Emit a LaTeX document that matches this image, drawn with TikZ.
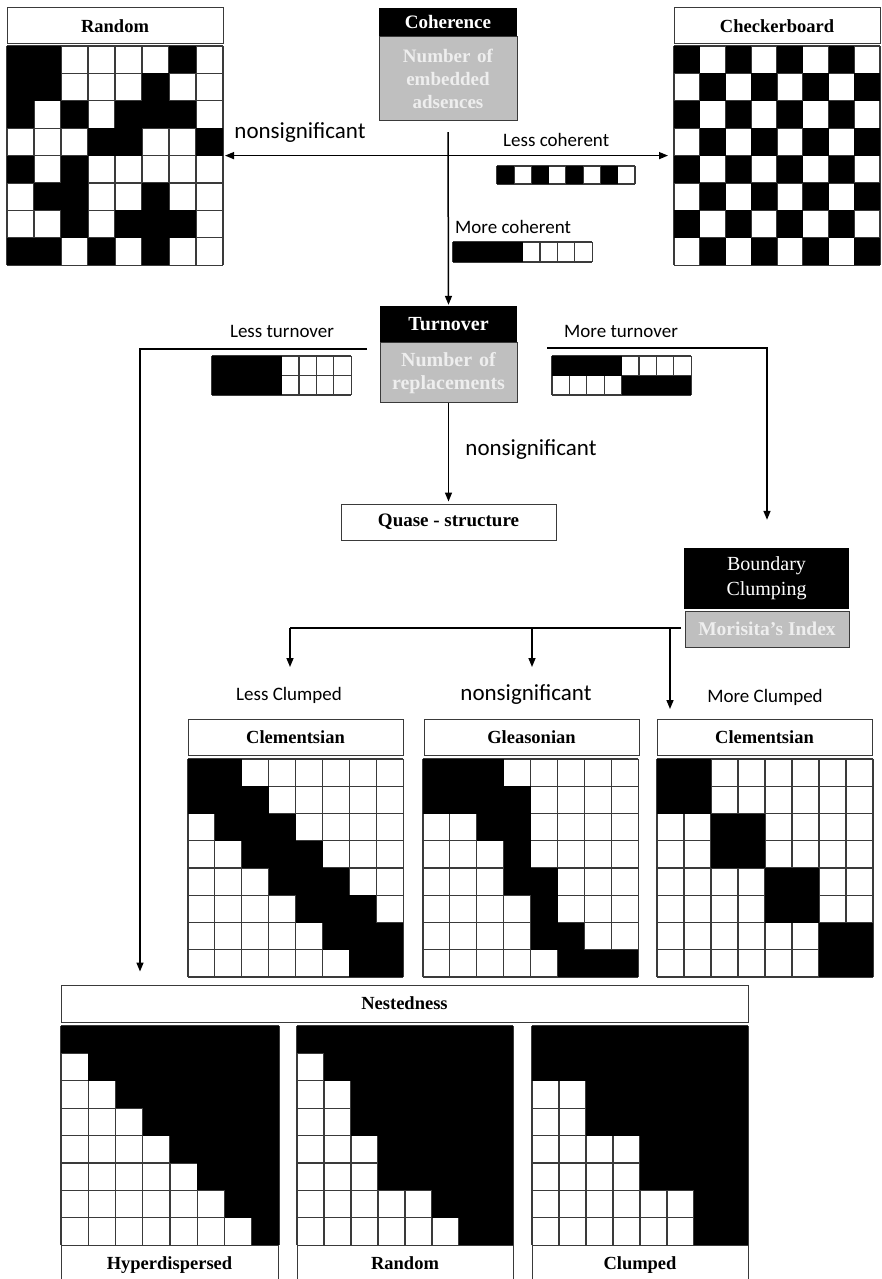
\documentclass[tikz,border=0pt]{standalone}
\usepackage{fontspec}
\setmainfont{Liberation Serif}
\newfontfamily\labfont{Carlito}
\usetikzlibrary{arrows.meta}

\definecolor{boxgray}{HTML}{BFBFBF}
\definecolor{paletext}{HTML}{EEEEEE}
\definecolor{edge}{HTML}{3A3A3A}

\tikzset{
  titlebox/.style={draw=edge, line width=1pt, fill=white, minimum height=36pt, inner sep=0pt,
    font=\bfseries\fontsize{18.5}{20}\selectfont},
  footbox/.style={titlebox, text height=13pt, text depth=4pt},
  headbox/.style={fill=black, text=white, inner sep=0pt, align=center},
  graybox/.style={fill=boxgray, draw=edge, line width=1pt, text=paletext, inner sep=0pt, align=center,
    font=\bfseries\fontsize{19}{23}\selectfont},
  lab/.style={font=\labfont\fontsize{19}{21}\selectfont, inner sep=0pt},
  biglab/.style={font=\labfont\fontsize{23}{25}\selectfont, inner sep=0pt},
  conn/.style={line width=1.5pt, -{Triangle[length=9pt,width=7pt]}},
  wire/.style={line width=1.5pt},
  gridln/.style={draw=edge, line width=1.1pt},
  matframe/.style={draw=none, inner sep=0pt, outer sep=0pt},
}

% #1 name, #2 x0, #3 y0, #4 cell width, #5 cell height, #6 columns, #7 rows, #8 pattern (1 = black)
\newcommand\cellmatrix[8]{%
  \fill[white] (#2,#3) rectangle ++({#6*#4},{#7*#5});
  \foreach \ii in {0,...,#6} \draw[gridln] ({#2+\ii*#4},#3) -- ++(0,{#7*#5});
  \foreach \jj in {0,...,#7} \draw[gridln] (#2,{#3+\jj*#5}) -- ++({#6*#4},0);
  \foreach [count=\ri] \row in {#8} {
    \foreach [count=\ci] \bit in \row {
      \ifnum\bit=1
        \fill[black] ({#2+(\ci-1)*#4},{#3+(\ri-1)*#5}) rectangle ++(#4,#5);
      \fi
    }
  }
  \node[matframe, minimum width={#6*#4}, minimum height={#7*#5}] (#1) at ({#2+#6*#4/2},{#3+#7*#5/2}) {};
}

\begin{document}
\begin{tikzpicture}[x=1pt, y=-1pt]
\useasboundingbox (0,0) rectangle (882,1279);
\fill[white] (0,0) rectangle (882,1279);

% ---------- top row: random and checkerboard ----------
\node[titlebox, minimum width=216pt] (tRand) at (115,26) {Random};
\cellmatrix{mRand}{7}{46}{27}{27.4}{8}{8}{{1,1,0,0,0,0,1,0},{1,1,0,0,0,1,0,0},{1,0,1,0,1,1,1,0},{0,0,0,1,1,0,0,1},{1,0,1,0,0,0,0,0},{0,1,1,0,0,1,0,0},{0,0,1,0,1,1,1,0},{1,1,0,1,0,1,0,0}}

\node[titlebox, minimum width=206pt] (tChk) at (777,26) {Checkerboard};
\cellmatrix{mChk}{674}{46}{25.75}{27.4}{8}{8}{{1,0,1,0,1,0,1,0},{0,1,0,1,0,1,0,1},{1,0,1,0,1,0,1,0},{0,1,0,1,0,1,0,1},{1,0,1,0,1,0,1,0},{0,1,0,1,0,1,0,1},{1,0,1,0,1,0,1,0},{0,1,0,1,0,1,0,1}}

% ---------- coherence ----------
\node[headbox, minimum width=138pt, minimum height=28pt, font=\bfseries\fontsize{19}{21}\selectfont] (cohH) at (448,22) {Coherence};
\node[graybox, minimum width=138pt, minimum height=84pt, anchor=north] (cohB) at (cohH.south) {Number\hspace{0.35em}of\\embedded\\adsences};

\coordinate (cj) at (cohB.south |- mRand.east);
\draw[conn, shorten >=2pt] (cj) -- (mRand.east);
\draw[conn, shorten >=6pt] (cj) -- (mChk.west);
\node[biglab] (lNs1) at (300,133) {nonsignificant};
\node[lab, anchor=west] (lLc) at (503,140) {Less coherent};
\cellmatrix{sLc}{497}{166}{17.25}{18}{8}{1}{{1,0,1,0,1,0,1,0}}
\node[lab, anchor=west] (lMc) at (455,227) {More coherent};
\cellmatrix{sMc}{453}{242}{17.4}{20}{8}{1}{{1,1,1,1,0,0,0,0}}

% ---------- turnover ----------
\node[headbox, minimum width=137pt, minimum height=36pt, font=\bfseries\fontsize{20}{22}\selectfont] (turnH) at (448.5,324) {Turnover};
\node[graybox, minimum width=137pt, minimum height=60pt, anchor=north, font=\bfseries\fontsize{20}{23}\selectfont] (turnB) at (turnH.south) {Number\hspace{0.35em}of\\replacements};

\draw[conn, shorten >=1pt] ([yshift=-11pt]cohB.south) -- (turnH.north);

\node[lab] (lLt) at (282,331) {Less turnover};
\cellmatrix{sLt}{212}{356}{17.4}{19.5}{8}{2}{{1,1,1,1,0,0,0,0},{1,1,1,1,0,0,0,0}}
\node[lab] (lMt) at (621,331) {More turnover};
\cellmatrix{sMt}{552}{356}{17.4}{19.5}{8}{2}{{1,1,1,1,0,0,0,0},{0,0,0,0,1,1,1,1}}

\node[titlebox, minimum width=215pt, font=\bfseries\fontsize{19}{21}\selectfont] (quase) at (448.5,522) {Quase - structure};
\draw[conn, shorten >=2pt] (turnB.south) -- (quase.north);
\node[biglab] (lNs2) at (531,450) {nonsignificant};

% ---------- boundary clumping ----------
\node[headbox, minimum width=165pt, minimum height=61pt, font=\fontsize{20}{25}\selectfont] (bndH) at (766.5,578.5) {Boundary\\Clumping};
\node[graybox, minimum width=164pt, minimum height=36pt, font=\bfseries\fontsize{19.5}{21}\selectfont] (bndB) at (767,629) {Morisita’s Index};

\coordinate (tL) at (367,349);
\coordinate (tLc) at (140,349);
\coordinate (tR) at (547,348);
\coordinate (tRc) at (767,348);

% ---------- middle row: clementsian / gleasonian ----------
\node[lab] (lLcl) at (289,695) {Less Clumped};
\node[biglab] (lNs3) at (526,695) {nonsignificant};
\node[lab] (lMcl) at (765,697) {More Clumped};

\node[titlebox, minimum width=215pt] (tCl1) at (295.5,737) {Clementsian};
\cellmatrix{mCl1}{188}{759}{26.9}{27.25}{8}{8}{{1,1,0,0,0,0,0,0},{1,1,1,0,0,0,0,0},{0,1,1,1,0,0,0,0},{0,0,1,1,1,0,0,0},{0,0,0,1,1,1,0,0},{0,0,0,0,1,1,1,0},{0,0,0,0,0,1,1,1},{0,0,0,0,0,0,1,1}}

\node[titlebox, minimum width=215pt] (tGl) at (531.5,737) {Gleasonian};
\cellmatrix{mGl}{423}{759}{26.9}{27.25}{8}{8}{{1,1,1,0,0,0,0,0},{1,1,1,1,0,0,0,0},{0,0,1,1,0,0,0,0},{0,0,0,1,0,0,0,0},{0,0,0,1,1,0,0,0},{0,0,0,0,1,0,0,0},{0,0,0,0,1,1,0,0},{0,0,0,0,0,1,1,1}}

\node[titlebox, minimum width=215pt] (tCl2) at (764.5,737) {Clementsian};
\cellmatrix{mCl2}{657}{759}{27}{27.25}{8}{8}{{1,1,0,0,0,0,0,0},{1,1,0,0,0,0,0,0},{0,0,1,1,0,0,0,0},{0,0,1,1,0,0,0,0},{0,0,0,0,1,1,0,0},{0,0,0,0,1,1,0,0},{0,0,0,0,0,0,1,1},{0,0,0,0,0,0,1,1}}

% branching below the boundary clumping box
\coordinate (bj) at (681,628);
\coordinate (bL) at (290,628);
\coordinate (bM) at (532,628);
\coordinate (bR) at (670,628);
\coordinate (eL) at (290,667);
\coordinate (eM) at (532,667);
\coordinate (eR) at (670,709);
\draw[wire] (bj) -- (bL);
\draw[conn] (bL) -- (eL);
\draw[conn] (bM) -- (eM);
\draw[conn] (bR) -- (eR);

% ---------- nestedness ----------
\node[titlebox, minimum width=687pt, minimum height=37pt] (nest) at (404.5,1003.5) {Nestedness};

\cellmatrix{mHyp}{61}{1026}{27.25}{27.4}{8}{8}{{1,1,1,1,1,1,1,1},{0,1,1,1,1,1,1,1},{0,0,1,1,1,1,1,1},{0,0,0,1,1,1,1,1},{0,0,0,0,1,1,1,1},{0,0,0,0,0,1,1,1},{0,0,0,0,0,0,1,1},{0,0,0,0,0,0,0,1}}
\cellmatrix{mRnd}{297}{1026}{27}{27.4}{8}{8}{{1,1,1,1,1,1,1,1},{0,1,1,1,1,1,1,1},{0,0,1,1,1,1,1,1},{0,0,1,1,1,1,1,1},{0,0,0,1,1,1,1,1},{0,0,0,1,1,1,1,1},{0,0,0,0,0,1,1,1},{0,0,0,0,0,0,1,1}}
\cellmatrix{mClp}{532}{1026}{27}{27.4}{8}{8}{{1,1,1,1,1,1,1,1},{1,1,1,1,1,1,1,1},{0,0,1,1,1,1,1,1},{0,0,1,1,1,1,1,1},{0,0,0,0,1,1,1,1},{0,0,0,0,1,1,1,1},{0,0,0,0,0,0,1,1},{0,0,0,0,0,0,1,1}}

\node[footbox, minimum width=217pt, minimum height=40pt] (lHyp) at (169.5,1265) {Hyperdispersed};
\node[footbox, minimum width=216pt, minimum height=40pt] (lRnd) at (405,1265) {Random};
\node[footbox, minimum width=216pt, minimum height=40pt] (lClp) at (640,1265) {Clumped};

% ---------- turnover branches ----------
\draw[conn] (tL) -- (tLc) -- ([yshift=13pt]nest.north -| tLc);
\draw[conn] (tR) -- (tRc) -- ([yshift=28pt]bndH.north -| tRc);
\end{tikzpicture}
\end{document}
